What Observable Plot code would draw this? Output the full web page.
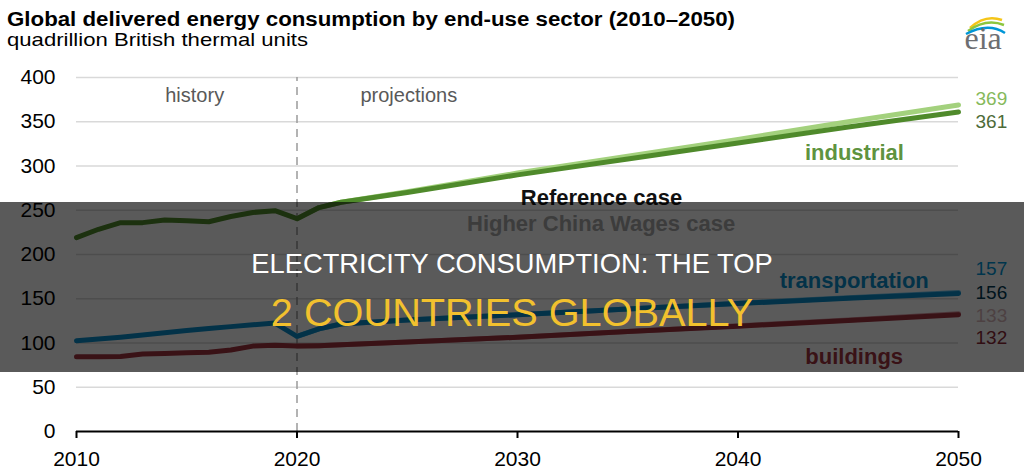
<!DOCTYPE html>
<html>
<head>
<meta charset="utf-8">
<script src="https://cdn.jsdelivr.net/npm/d3@7"></script>
<script src="https://cdn.jsdelivr.net/npm/@observablehq/plot@0.6"></script>
<style>
  html, body { margin: 0; padding: 0; background: #fff; }
  #wrap { position: relative; width: 1024px; height: 472px; overflow: hidden;
          font-family: "Liberation Sans", Arial, Helvetica, sans-serif; }
  .t { position: absolute; white-space: nowrap; line-height: 1; }
  #title { left: 7px; top: 10.2px; font-size: 19.5px; font-weight: bold; color: #000; transform-origin: 0 0; }
  #subtitle { left: 7px; top: 31px; font-size: 18.5px; color: #000; transform-origin: 0 0; }
  #chart { position: absolute; left: 0; top: 60px; }
  #logo { position: absolute; left: 950px; top: 2px; }
  #band { position: absolute; left: 0; top: 202px; width: 1024px; height: 170px;
          background: rgba(0, 0, 0, 0.647); }
  #band .t { left: 0; width: 1024px; text-align: center; }
  #line1 { top: 48.2px; font-size: 27.3px; color: #ffffff; }
  #line2 { top: 91.1px; font-size: 39.7px; color: #f2c12e; }
</style>
</head>
<body>
<div id="wrap">
  <div class="t" id="title">Global delivered energy consumption by end-use sector (2010–2050)</div>
  <div class="t" id="subtitle">quadrillion British thermal units</div>
  <svg id="logo" width="64" height="56">
    <path d="M20 26 Q35 12 52 18" fill="none" stroke="#f5c518" stroke-width="2.5"/>
    <path d="M18 29 Q36 16 54 23" fill="none" stroke="#8cc63f" stroke-width="2.5"/>
    <path d="M16 32 Q38 20 55 31" fill="none" stroke="#0096d7" stroke-width="2.5"/>
    <text x="14.5" y="47.3" font-family="Liberation Serif, Times New Roman, serif" font-size="32" fill="#6d6e71">eia</text>
  </svg>
  <div id="chart"></div>
  <div id="band">
    <div class="t" id="line1">ELECTRICITY CONSUMPTION: THE TOP</div>
    <div class="t" id="line2">2 COUNTRIES GLOBALLY</div>
  </div>
</div>
<script>
// Historical years and values (quadrillion Btu)
const historyYears = [2010, 2011, 2012, 2013, 2014, 2015, 2016, 2017, 2018, 2019, 2020];
const industrialHistory     = [219, 228.5, 236, 236, 239, 238, 237, 243, 247.5, 249.5, 240.5];
const transportationHistory = [102.5, 104.5, 106.5, 109, 111.5, 114, 116.5, 118.5, 120.5, 122.5, 107.5];
const buildingsHistory      = [84.5, 84.5, 84.7, 87.5, 88, 89, 89.5, 92, 96.5, 97.5, 96.5];

// Projection years and values for the two cases
const projectionYears = [2020, 2021, 2022, 2025, 2030, 2035, 2040, 2045, 2050];
const industrialReference     = [240.5, 253, 259, 270, 290, 308, 326, 344, 361];
const industrialHigherWages   = [240.5, 253, 259, 271, 292, 311, 330, 350, 369];
const transportationReference = [107.5, 116, 121.5, 126, 132, 138.5, 144.5, 150.5, 156];
const transportationHigherWages = [107.5, 116, 121.5, 126, 132, 138.5, 145, 151, 157];
const buildingsReference      = [96.5, 97, 98, 101, 106.5, 113, 119, 125.5, 132];
const buildingsHigherWages    = [96.5, 97, 98, 101, 106.5, 113, 119.5, 126, 133];

const sectors = ["industrial", "transportation", "buildings"];
const xTicks = [2010, 2020, 2030, 2040, 2050];
const yTicks = [0, 50, 100, 150, 200, 250, 300, 350, 400];

const history = {industrial: industrialHistory, transportation: transportationHistory, buildings: buildingsHistory};
const reference = {industrial: industrialReference, transportation: transportationReference, buildings: buildingsReference};
const higher = {industrial: industrialHigherWages, transportation: transportationHigherWages, buildings: buildingsHigherWages};

// Colours per sector
const palette = {
  industrial:     {main: "#4f8a2b", high: "#a3d17d", name: "#5e9340", refText: "#4d6b38", highText: "#86b95b"},
  transportation: {main: "#0a8fcc", high: "#6cc4ee", name: "#0a8fcc", refText: "#003953", highText: "#0096d7"},
  buildings:      {main: "#a33340", high: "#d99aa2", name: "#a33340", refText: "#8c2a36", highText: "#d9b8bc"}
};
// Offsets keeping the end-value labels apart
const labelShift = {
  industrial:     {ref: 9.7,  high: -6.5},
  transportation: {ref: -0.8, high: -23.2},
  buildings:      {ref: 23.7, high: 2.3}
};
// Sector name positions (year, value)
const sectorLabelAt = {industrial: [2045.28, 315.3], transportation: [2045.27, 170.3], buildings: [2045.27, 84.4]};

const rows = (years, values, sector, kind) => years.map((year, i) => ({year, value: values[i], sector, kind}));

const FONT = "Liberation Sans, Arial, Helvetica, sans-serif";
const marks = [
  Plot.ruleY(yTicks.filter(d => d > 0), {stroke: "#d9d9d9", strokeWidth: 1.5}),
  Plot.ruleX([2020], {y1: 0, y2: 400, stroke: "#9a9a9a", strokeWidth: 1.5, strokeDasharray: "8,6"})
];

for (const s of sectors) {
  marks.push(Plot.line(rows(projectionYears, higher[s], s, "high"), {
    x: "year", y: "value", stroke: palette[s].high, strokeWidth: 5, strokeLinejoin: "round"
  }));
}
for (const s of sectors) {
  const hist = rows(historyYears, history[s], s, "history");
  const ref = rows(projectionYears, reference[s], s, "reference").slice(1);
  marks.push(Plot.line(hist.concat(ref), {
    x: "year", y: "value", stroke: palette[s].main, strokeWidth: 5, strokeLinejoin: "round"
  }));
}

marks.push(
  Plot.ruleY([0], {stroke: "#000", strokeWidth: 2}),
  Plot.axisX({ticks: xTicks, tickSize: 7, tickPadding: 13, strokeWidth: 2, stroke: "#000",
              tickFormat: d => String(d), fontSize: 21, fill: "#000", label: null}),
  Plot.axisY({ticks: yTicks, tickSize: 0, tickPadding: 21, fontSize: 21, fill: "#000", label: null}),
  Plot.text(["history"], {x: () => 2015.36, y: () => 379.8, fontSize: 20, fill: "#595959"}),
  Plot.text(["projections"], {x: () => 2025.07, y: () => 379.8, fontSize: 20, fill: "#595959"}),
  Plot.text(["Reference case"], {x: () => 2033.81, y: () => 264.4, fontSize: 22, fontWeight: "bold", fill: "#111"}),
  Plot.text(["Higher China Wages case"], {x: () => 2033.79, y: () => 234.2, fontSize: 22, fontWeight: "bold", fill: "#aaaaaa"})
);

for (const s of sectors) {
  const [lx, ly] = sectorLabelAt[s];
  marks.push(Plot.text([s], {x: () => lx, y: () => ly, fontSize: 22, fontWeight: "bold", fill: palette[s].name}));
  const refEnd = reference[s][reference[s].length - 1];
  const highEnd = higher[s][higher[s].length - 1];
  marks.push(Plot.text([refEnd], {x: () => 2050, y: d => d, text: d => String(d), dx: 17, dy: labelShift[s].ref,
    textAnchor: "start", fontSize: 19, fill: palette[s].refText}));
  marks.push(Plot.text([highEnd], {x: () => 2050, y: d => d, text: d => String(d), dx: 17, dy: labelShift[s].high,
    textAnchor: "start", fontSize: 19, fill: palette[s].highText}));
}

const chart = Plot.plot({
  width: 1024,
  height: 412,
  marginTop: 17,
  marginBottom: 41,
  marginLeft: 76,
  marginRight: 66,
  style: {fontFamily: FONT, fontSize: "21px", background: "transparent", overflow: "visible"},
  x: {domain: [2010, 2050], axis: null},
  y: {domain: [0, 400], axis: null},
  marks
});
document.getElementById("chart").appendChild(chart);

// Widen the heading lines horizontally to their set widths
function stretchTo(id, targetWidth) {
  const el = document.getElementById(id);
  const w = el.getBoundingClientRect().width;
  if (w > 0) el.style.transform = `scaleX(${targetWidth / w})`;
}
stretchTo("title", 728);
stretchTo("subtitle", 301);
</script>
</body>
</html>
